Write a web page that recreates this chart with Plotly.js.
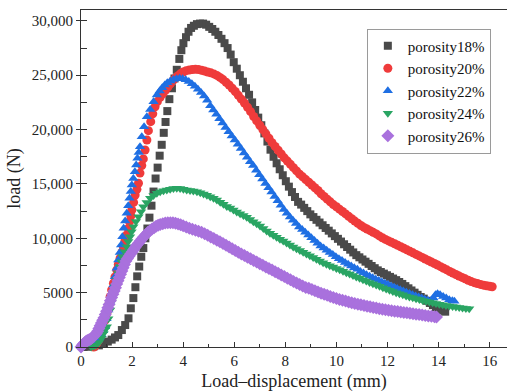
<!DOCTYPE html>
<html>
<head>
<meta charset="utf-8">
<script src="https://cdn.plot.ly/plotly-3.0.1.min.js"></script>
<style>html,body{margin:0;padding:0;background:#fff;overflow:hidden}</style>
</head>
<body>
<div id="chart" style="width:507px;height:392px"></div>
<script>
// ---- data ----
const seriesNames = ['porosity18%', 'porosity20%', 'porosity22%', 'porosity24%', 'porosity26%'];

const disp18 = [0.1,0.3,0.5,0.7,0.9,1.05,1.2,1.33,1.46,1.6,1.73,1.86,1.95,2.05,2.13,2.2,2.28,2.36,2.44,2.52,2.6,2.68,2.76,2.84,2.92,3.0,3.08,3.16,3.24,3.31,3.38,3.46,3.56,3.66,3.75,3.85,3.93,4.01,4.11,4.21,4.31,4.42,4.54,4.66,4.78,4.9,5.02,5.14,5.26,5.38,5.5,5.62,5.74,5.86,5.98,6.1,6.22,6.34,6.46,6.58,6.7,6.82,6.94,7.06,7.18,7.3,7.42,7.54,7.66,7.78,7.9,8.02,8.14,8.26,8.38,8.5,8.62,8.74,8.86,8.98,9.1,9.22,9.34,9.46,9.58,9.7,9.82,9.94,10.06,10.18,10.3,10.42,10.54,10.66,10.78,10.9,11.02,11.14,11.26,11.38,11.5,11.62,11.74,11.86,11.98,12.1,12.22,12.34,12.46,12.58,12.7,12.82,12.94,13.06,13.18,13.3,13.42,13.54,13.66,13.78,13.9,14.02,14.14,14.26];
const load18 = [0,20,60,150,330,500,680,880,1100,1560,2020,2640,3560,4500,5500,6500,7400,8300,9100,10000,10900,11900,13000,14300,15500,16500,17600,18600,19700,20700,21700,22800,23800,24700,25500,26500,27300,27950,28500,29000,29350,29550,29700,29750,29750,29650,29450,29250,29000,28700,28350,27950,27500,26900,26200,25600,25000,24400,23800,23200,22500,21800,21100,20400,19650,18900,18150,17500,16900,16350,15800,15250,14750,14250,13800,13350,13100,12800,12500,12200,11950,11700,11450,11200,10950,10700,10450,10200,9950,9700,9450,9200,8950,8700,8450,8250,8050,7850,7650,7450,7250,7050,6900,6750,6600,6450,6300,6150,5980,5800,5600,5400,5200,5000,4800,4600,4450,4250,4050,3850,3650,3500,3350,3250];

const disp20 = [0.5,0.56,0.62,0.68,0.75,0.81,0.87,0.94,1.01,1.07,1.14,1.2,1.27,1.33,1.4,1.46,1.53,1.6,1.66,1.72,1.79,1.85,1.9,1.95,1.99,2.06,2.12,2.19,2.25,2.31,2.38,2.44,2.51,2.58,2.64,2.73,2.81,2.9,2.99,3.1,3.2,3.3,3.4,3.5,3.6,3.7,3.8,3.9,4.0,4.12,4.24,4.36,4.48,4.6,4.72,4.84,4.96,5.08,5.2,5.32,5.44,5.56,5.68,5.8,5.92,6.04,6.16,6.28,6.4,6.52,6.64,6.76,6.88,7.0,7.12,7.24,7.36,7.48,7.6,7.72,7.84,7.96,8.08,8.2,8.32,8.44,8.56,8.68,8.8,8.92,9.04,9.16,9.28,9.4,9.52,9.64,9.76,9.88,10.0,10.12,10.24,10.36,10.48,10.6,10.72,10.84,10.96,11.08,11.2,11.32,11.44,11.56,11.68,11.8,11.92,12.04,12.16,12.28,12.4,12.52,12.64,12.76,12.88,13.0,13.12,13.24,13.36,13.48,13.6,13.72,13.84,13.96,14.08,14.2,14.32,14.44,14.56,14.68,14.8,14.92,15.04,15.16,15.28,15.4,15.52,15.64,15.76,15.88,16.0,16.1];
const load20 = [0,120,340,600,950,1400,1870,2450,3100,3850,4630,5250,5860,6450,7080,7600,8160,8700,9230,9750,10300,10900,11530,12050,12600,13300,13980,14500,15060,16000,16700,17300,18120,19040,19900,20730,21450,22100,22570,22970,23300,23600,23900,24200,24500,24750,24950,25150,25300,25420,25480,25520,25540,25520,25460,25380,25300,25220,25120,24980,24800,24600,24350,24100,23800,23500,23150,22800,22450,22050,21650,21200,20800,20400,20000,19600,19200,18800,18450,18100,17750,17400,17100,16800,16500,16200,15900,15650,15400,15150,14900,14650,14400,14100,13850,13600,13350,13100,12900,12680,12460,12240,12020,11800,11580,11380,11180,11000,10850,10700,10550,10400,10220,10050,9900,9760,9630,9500,9360,9220,9080,8940,8800,8660,8520,8380,8240,8100,7960,7820,7680,7540,7390,7240,7100,6950,6810,6670,6530,6400,6270,6140,6020,5920,5840,5760,5690,5630,5580,5540];

const disp22 = [0.0,0.08,0.16,0.24,0.32,0.4,0.48,0.56,0.64,0.72,0.8,0.87,0.94,1.0,1.07,1.14,1.2,1.27,1.33,1.4,1.46,1.52,1.57,1.62,1.67,1.73,1.79,1.85,1.9,1.95,1.99,2.05,2.11,2.16,2.21,2.26,2.31,2.38,2.47,2.58,2.71,2.84,2.97,3.08,3.18,3.28,3.38,3.5,3.62,3.74,3.86,3.98,4.1,4.22,4.34,4.46,4.58,4.7,4.82,4.94,5.06,5.18,5.3,5.42,5.54,5.66,5.78,5.9,6.02,6.14,6.26,6.38,6.5,6.62,6.74,6.86,6.98,7.1,7.22,7.34,7.46,7.58,7.7,7.82,7.94,8.06,8.18,8.3,8.42,8.54,8.66,8.78,8.9,9.02,9.14,9.26,9.38,9.5,9.62,9.74,9.86,9.98,10.1,10.22,10.34,10.46,10.58,10.7,10.82,10.94,11.06,11.18,11.3,11.42,11.54,11.66,11.78,11.9,12.02,12.14,12.26,12.38,12.5,12.62,12.74,12.86,12.98,13.1,13.22,13.34,13.46,13.58,13.7,13.8,13.88,13.96,14.06,14.18,14.3,14.42,14.54,14.62];
const load22 = [200,250,280,300,330,350,400,500,650,850,1150,1500,1870,2600,3400,4200,4940,5700,6470,7250,8000,8700,9380,10150,10920,11600,12300,13000,13680,14300,14900,15500,16130,16750,17360,17900,18430,19350,20270,21190,21850,22570,23180,23550,23850,24100,24300,24480,24600,24680,24720,24680,24580,24420,24220,23980,23720,23420,23080,22700,22200,21800,21400,21000,20600,20200,19800,19400,19050,18650,18250,17850,17450,17050,16700,16250,15850,15450,15050,14650,14250,13850,13450,13050,12650,12300,11950,11650,11350,11050,10800,10550,10300,10050,9800,9550,9300,9100,8900,8700,8500,8300,8120,7950,7780,7620,7460,7300,7150,6950,6800,6650,6500,6370,6240,6110,5980,5860,5740,5620,5500,5380,5260,5140,5030,4920,4810,4700,4600,4500,4400,4300,4250,4500,4800,4900,4800,4650,4500,4350,4250,4200];

const disp24 = [0.4,0.5,0.6,0.7,0.8,0.88,0.95,1.01,1.07,1.14,1.2,1.27,1.33,1.4,1.46,1.53,1.58,1.63,1.71,1.79,1.85,1.92,1.98,2.05,2.15,2.25,2.35,2.44,2.57,2.71,2.84,2.97,3.1,3.23,3.36,3.49,3.62,3.75,3.88,4.01,4.14,4.27,4.4,4.54,4.67,4.8,4.93,5.06,5.19,5.32,5.45,5.58,5.71,5.84,5.97,6.1,6.23,6.36,6.49,6.62,6.75,6.88,7.01,7.14,7.27,7.4,7.53,7.66,7.79,7.92,8.05,8.18,8.31,8.44,8.57,8.7,8.83,8.96,9.09,9.22,9.35,9.48,9.61,9.74,9.87,10.0,10.13,10.26,10.39,10.52,10.65,10.78,10.91,11.04,11.17,11.3,11.43,11.56,11.69,11.82,11.95,12.08,12.21,12.34,12.47,12.6,12.73,12.86,12.99,13.12,13.25,13.38,13.51,13.64,13.77,13.9,14.03,14.16,14.29,14.42,14.55,14.68,14.81,14.94,15.07,15.2];
const load24 = [0,60,180,420,800,1250,1600,1870,2600,3400,4150,4940,5550,6160,6750,7390,7850,8310,8770,9230,9700,10150,10600,11070,11550,11990,12450,12910,13300,13680,13930,14140,14280,14380,14450,14520,14580,14600,14580,14520,14440,14400,14340,14270,14180,14080,13970,13830,13680,13520,13320,13120,12920,12780,12600,12420,12260,12100,11930,11730,11530,11330,11120,10900,10680,10460,10280,10100,9920,9740,9560,9380,9200,9030,8870,8710,8550,8390,8230,8070,7910,7760,7620,7480,7350,7220,7100,6970,6840,6710,6580,6450,6320,6190,6060,5940,5820,5700,5580,5460,5340,5220,5110,5000,4900,4800,4700,4610,4520,4440,4360,4280,4200,4130,4060,4000,3940,3880,3820,3770,3720,3670,3630,3590,3550,3510];

const disp26 = [0.0,0.05,0.1,0.15,0.2,0.25,0.3,0.35,0.4,0.45,0.5,0.55,0.6,0.65,0.7,0.75,0.8,0.85,0.9,0.95,1.0,1.05,1.1,1.15,1.2,1.25,1.3,1.35,1.4,1.45,1.5,1.55,1.6,1.65,1.7,1.76,1.82,1.88,1.94,2.0,2.06,2.12,2.18,2.25,2.32,2.39,2.46,2.54,2.62,2.7,2.78,2.86,2.94,3.02,3.1,3.2,3.3,3.4,3.5,3.6,3.7,3.8,3.9,4.0,4.12,4.24,4.36,4.48,4.6,4.72,4.84,4.96,5.08,5.2,5.32,5.44,5.56,5.68,5.8,5.92,6.04,6.16,6.28,6.4,6.52,6.64,6.76,6.88,7.0,7.12,7.24,7.36,7.48,7.6,7.72,7.84,7.96,8.08,8.2,8.32,8.44,8.56,8.68,8.8,8.92,9.04,9.16,9.28,9.4,9.52,9.64,9.76,9.88,10.0,10.12,10.24,10.36,10.48,10.6,10.72,10.84,10.96,11.08,11.2,11.32,11.44,11.56,11.68,11.8,11.92,12.04,12.16,12.28,12.4,12.52,12.64,12.76,12.88,13.0,13.12,13.24,13.36,13.48,13.6,13.72,13.84,13.92];
const load26 = [0,150,300,420,520,600,640,700,780,880,1000,1120,1250,1450,1700,1950,2200,2450,2700,3000,3300,3600,3900,4250,4550,4850,5150,5450,5800,6100,6400,6700,7000,7300,7600,7900,8150,8350,8550,8750,8950,9150,9350,9550,9750,9950,10150,10350,10550,10700,10850,10980,11100,11200,11270,11340,11400,11430,11440,11420,11380,11320,11250,11150,11030,10920,10830,10740,10650,10550,10420,10280,10130,9980,9830,9680,9530,9370,9200,9040,8880,8720,8560,8410,8260,8110,7960,7810,7660,7510,7360,7220,7080,6930,6780,6630,6480,6330,6180,6030,5890,5750,5610,5470,5400,5280,5170,5060,4950,4850,4750,4650,4550,4450,4370,4290,4220,4150,4080,4010,3940,3880,3820,3760,3700,3640,3580,3530,3480,3430,3380,3340,3300,3260,3220,3180,3140,3100,3060,3020,2980,2940,2900,2860,2820,2790,2770];

const xTickVals = [0, 2, 4, 6, 8, 10, 12, 14, 16];
const xTickText = ['0', '2', '4', '6', '8', '10', '12', '14', '16'];
const yTickVals = [0, 5000, 10000, 15000, 20000, 25000, 30000];
const yTickText = ['0', '5000', '10,000', '15,000', '20,000', '25,000', '30,000'];

// ---- styling ----
const colors = ['#4a4a4a', '#ef3b3b', '#1f6fe3', '#2aa563', '#a971dd'];
const symbols = ['square', 'circle', 'triangle-up', 'triangle-down', 'diamond'];
const sizes = [8, 9, 9, 9, 10];
const xs = [disp18, disp20, disp22, disp24, disp26];
const ys = [load18, load20, load22, load24, load26];

const FONT = "'Liberation Serif', 'Times New Roman', serif";
const AX = '#333333';

const traces = seriesNames.map((name, i) => ({
  type: 'scatter',
  mode: 'markers',
  name: name,
  x: xs[i],
  y: ys[i],
  cliponaxis: false,
  marker: { symbol: symbols[i], size: sizes[i], color: colors[i], line: { width: 0 } },
  hoverinfo: 'skip'
}));

const layout = {
  width: 507,
  height: 392,
  margin: { l: 81, r: 0, t: 10, b: 45, pad: 0 },
  paper_bgcolor: '#ffffff',
  plot_bgcolor: '#ffffff',
  font: { family: FONT, size: 15, color: '#222' },
  showlegend: true,
  legend: {
    x: 0.671, y: 0.945, xanchor: 'left', yanchor: 'top',
    bgcolor: '#ffffff', bordercolor: '#9a9a9a', borderwidth: 1,
    font: { family: FONT, size: 15, color: '#111' },
    tracegroupgap: 0
  },
  xaxis: {
    range: [0, 16.68],
    showgrid: false, zeroline: false,
    showline: true, linecolor: AX, linewidth: 1, mirror: true,
    ticks: 'inside', ticklen: 5, tickwidth: 1, tickcolor: AX,
    tickmode: 'array', tickvals: xTickVals, ticktext: xTickText,
    minor: { ticks: 'inside', ticklen: 3, tickwidth: 1, tickcolor: AX, dtick: 1, tick0: 0, showgrid: false },
    tickfont: { family: FONT, size: 15, color: '#222' },
    title: { text: 'Load–displacement (mm)', font: { family: FONT, size: 18, color: '#222' }, standoff: 13 },
    automargin: false
  },
  yaxis: {
    range: [0, 31000],
    showgrid: false, zeroline: false,
    showline: true, linecolor: AX, linewidth: 1,
    ticks: 'outside', ticklen: 4, tickwidth: 1, tickcolor: AX,
    tickmode: 'array', tickvals: yTickVals, ticktext: yTickText,
    minor: { ticks: 'inside', ticklen: 6, tickwidth: 1, tickcolor: AX, dtick: 2500, tick0: 0, showgrid: false },
    tickfont: { family: FONT, size: 15, color: '#222' },
    title: { text: 'load (N)', font: { family: FONT, size: 18, color: '#222' }, standoff: 6 },
    automargin: false
  },
  yaxis2: {
    overlaying: 'y', anchor: 'x', side: 'left',
    range: [0, 31000], matches: 'y',
    showgrid: false, zeroline: false, showline: false,
    ticks: 'inside', ticklen: 6, tickwidth: 1, tickcolor: AX,
    tickmode: 'array', tickvals: yTickVals, showticklabels: false
  }
};

Plotly.newPlot('chart', traces, layout, { displayModeBar: false, staticPlot: true });
</script>
</body>
</html>
